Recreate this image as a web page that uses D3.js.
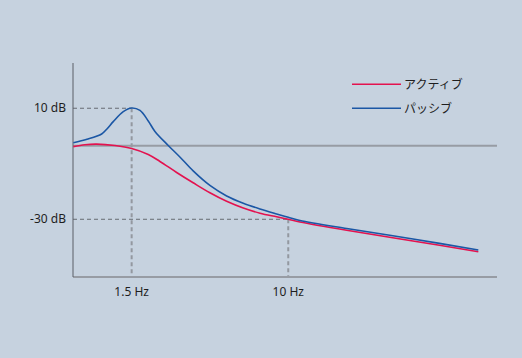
<!DOCTYPE html>
<html><head><meta charset="utf-8">
<script src="https://cdn.jsdelivr.net/npm/d3@7"></script>
<style>
html,body{margin:0;padding:0;background:#c6d2df;}
svg{display:block;}
</style></head>
<body>
<svg id="c" width="522" height="358"></svg>
<script>
const seriesNames = ["アクティブ", "パッシブ"];
const seriesColors = ["#e3124f", "#1b57a5"];
const activeFreq = [0.74, 0.852, 0.982, 1.225, 1.5, 1.834, 2.113, 2.587, 3.16, 3.87, 4.74, 5.80, 7.10, 8.69, 10, 11.52, 20.3, 45.3, 100];
const activeDb   = [-3.84, -3.15, -2.94, -3.44, -4.49, -6.65, -9.17, -13.14, -16.85, -20.45, -23.51, -25.93, -27.80, -29.10, -30, -30.97, -33.96, -37.82, -41.68];
const passiveFreq = [0.74, 0.873, 1.043, 1.112, 1.2, 1.355, 1.5, 1.659, 1.834, 1.989, 2.336, 2.69, 3.16, 3.87, 4.74, 5.80, 7.10, 8.69, 10, 11.52, 20.3, 45.3, 100];
const passiveDb   = [-2.40, -1.17, 0.74, 2.54, 5.17, 8.77, 10.1, 9.21, 5.42, 1.64, -3.41, -7.55, -12.59, -17.82, -21.60, -24.23, -26.29, -28.09, -29.28, -30.43, -33.35, -37.10, -41.06];
const xTickVals = [1.5, 10];
const xTickLabels = ["1.5 Hz", "10 Hz"];
const yTickVals = [10, -30];
const yTickLabels = ["10 dB", "-30 dB"];
const refDb = -3.5;

const svg = d3.select("#c");
const x = d3.scaleLog().domain([0.737, 125.4]).range([73, 497]);
const y = d3.scaleLinear().domain([-50.8, 26.3]).range([277, 63]);

// dashed guides
svg.append("g").selectAll("line").data(yTickVals).join("line")
  .attr("x1", x.range()[0]).attr("x2", (d,i)=>x(xTickVals[i]))
  .attr("y1", d=>y(d)).attr("y2", d=>y(d))
  .attr("stroke", "#666b72").attr("stroke-width", 1).attr("stroke-dasharray", "4,3");
svg.append("g").selectAll("line").data(xTickVals).join("line")
  .attr("x1", d=>x(d)).attr("x2", d=>x(d))
  .attr("y1", (d,i)=>y(yTickVals[i])).attr("y2", y.range()[0])
  .attr("stroke", "#9398a0").attr("stroke-width", 2).attr("stroke-dasharray", "4,3");

// reference line
svg.append("line").attr("x1", 73).attr("x2", 497)
  .attr("y1", y(refDb)).attr("y2", y(refDb))
  .attr("stroke", "#979ca4").attr("stroke-width", 2);

// axes
svg.append("line").attr("x1", 73).attr("x2", 497)
  .attr("y1", 277).attr("y2", 277)
  .attr("stroke", "#979ca4").attr("stroke-width", 2);
svg.append("line").attr("x1", 73).attr("x2", 73)
  .attr("y1", 63).attr("y2", 277)
  .attr("stroke", "#5a5e66").attr("stroke-width", 1);

// tick labels
svg.append("g").selectAll("text").data(yTickVals).join("text")
  .attr("x", 66).attr("y", d=>y(d)).attr("dy", "0.35em")
  .attr("text-anchor", "end").attr("font-family", "Noto Sans, sans-serif")
  .attr("font-size", 12).attr("fill", "#1e1e1e")
  .text((d,i)=>yTickLabels[i]);
svg.append("g").selectAll("text").data(xTickVals).join("text")
  .attr("x", d=>x(d)).attr("y", 292).attr("dy", "0.35em")
  .attr("text-anchor", "middle").attr("font-family", "Noto Sans, sans-serif")
  .attr("font-size", 12).attr("fill", "#1e1e1e")
  .text((d,i)=>xTickLabels[i]);

// curves
const line = d3.line().x(d=>x(d[0])).y(d=>y(d[1])).curve(d3.curveCatmullRom.alpha(0.5));
const act = activeFreq.map((f,i)=>[f, activeDb[i]]);
const pas = passiveFreq.map((f,i)=>[f, passiveDb[i]]);
svg.append("path").attr("d", line(act)).attr("fill","none")
  .attr("stroke", seriesColors[0]).attr("stroke-width", 1.6);
svg.append("path").attr("d", line(pas)).attr("fill","none")
  .attr("stroke", seriesColors[1]).attr("stroke-width", 1.6);

// legend
const lg = svg.append("g").selectAll("g").data(seriesNames).join("g")
  .attr("transform", (d,i)=>`translate(352,${84.3 + i*24})`);
lg.append("line").attr("x1", 0).attr("x2", 49).attr("y1", 0).attr("y2", 0)
  .attr("stroke", (d,i)=>seriesColors[i]).attr("stroke-width", 1.5);
lg.append("text").attr("x", 52).attr("y", 0).attr("dy", "0.38em")
  .attr("font-family", "Noto Sans CJK JP, sans-serif").attr("font-size", 12)
  .attr("fill", "#1e1e1e").text(d=>d);
</script>
</body></html>
